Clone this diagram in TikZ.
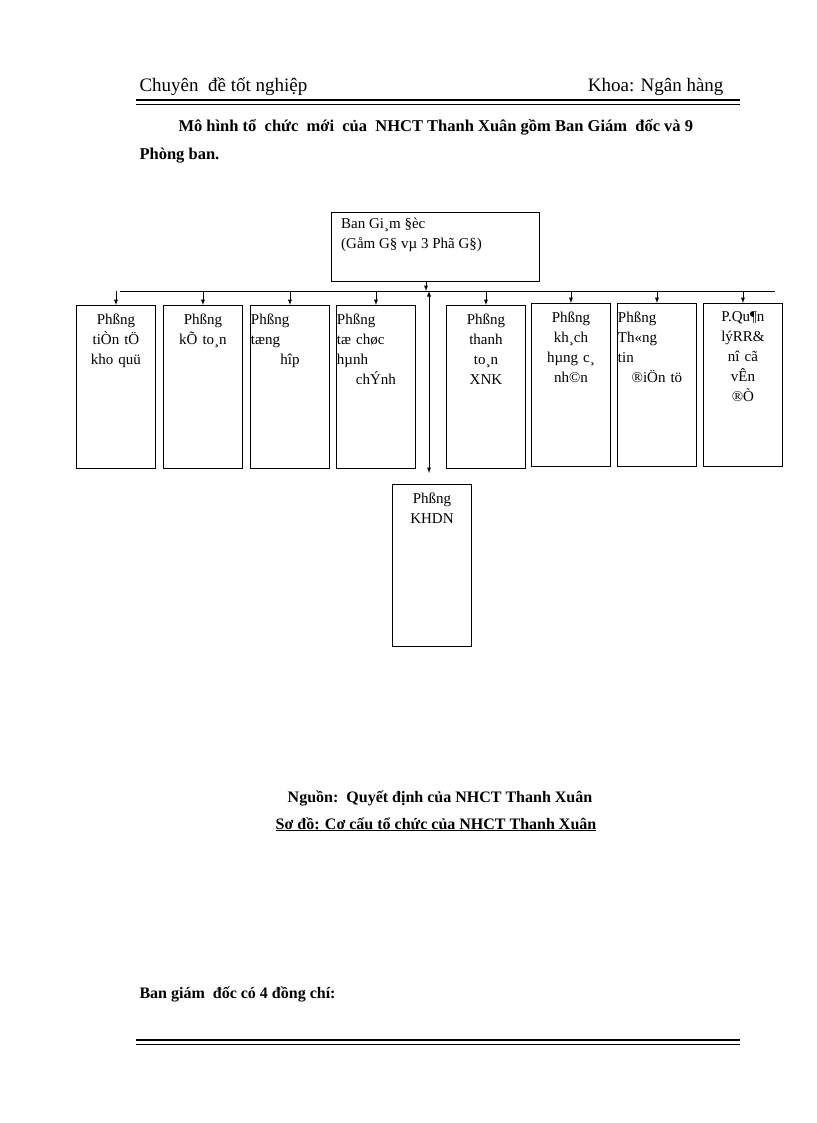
\documentclass[tikz,border=0pt]{standalone}
\usepackage{fontspec}
\setmainfont{Liberation Serif}
\begin{document}
\begin{tikzpicture}[x=1pt,y=-1pt,
  box/.style={draw,line width=0.9pt,minimum width=79pt,minimum height=163pt,anchor=north west,inner sep=0pt},
  lbl/.style={font=\fontsize{15}{20}\selectfont,align=center,anchor=north,text width=78pt},
  arr/.style={-latex,line width=0.9pt}]
\useasboundingbox (0,0) rectangle (816,1123);
% header
\node[anchor=base west,font=\fontsize{19}{22}\selectfont] (h1) at (136,92) {Chuyên\ \ đề tốt nghiệp};
\node[anchor=base east,font=\fontsize{19}{22}\selectfont] (h2) at (727,92) {Khoa: Ngân hàng};
\draw[line width=1.4pt] (136,100) -- (740,100);
\draw[line width=0.6pt] (136,104) -- (740,104);
\node[anchor=base west,font=\bfseries\fontsize{16.5}{20}\selectfont] (p1) at (175,132) {Mô hình tổ\ \ chức\ \ mới\ \ của\ \ NHCT Thanh Xuân gồm Ban Giám\ \ đốc và 9};
\node[anchor=base west,font=\bfseries\fontsize{16.5}{20}\selectfont] (p2) at (136,160) {Phòng ban.};
% top box
\node[draw,line width=0.9pt,minimum width=208pt,minimum height=69pt,anchor=north west] (bgd) at (331,212) {};
\node[anchor=north west,align=left,font=\fontsize{15}{20}\selectfont,inner sep=0pt] (bgdt) at (341,218) {Ban Gi¸m §èc\\(Gåm G§ vµ 3 Phã G§)};
\coordinate (j) at (426,291);
\coordinate (l) at (120,291);
\coordinate (r) at (775,291);
\draw[arr] (426,281) -- (j);
\draw[line width=0.9pt] (l) -- (r);
% children
\foreach \n/\x/\y/\t in {a/76/305/{Phßng\\tiÒn tÖ\\kho quü},
  b/163/305/{Phßng\\kÕ to¸n},
  c/250/305/{\raggedright Phßng\\tæng\\hîp},
  d/336/305/{\raggedright Phßng\\tæ chøc\\hµnh\\chÝnh},
  e/446/305/{Phßng\\thanh\\to¸n\\XNK},
  f/531/303/{Phßng\\kh¸ch\\hµng c¸\\nh©n},
  g/617/303/{\raggedright Phßng\\Th«ng\\tin\\®iÖn tö},
  h/703/303/{P.Qu¶n\\lýRR\&\\nî cã\\vÊn\\®Ò}}{
  \node[box] (\n) at (\x,\y) {};
  \node[lbl] (\n t) at ([yshift=-5pt]\n.north) {\t};
  \draw[arr] (\n.north |- j) -- (\n.north);
}
\node[draw,line width=0.9pt,minimum width=79pt,minimum height=162pt,anchor=north west,inner sep=0pt] (k) at (392,484) {};
\node[lbl] (kt) at ([yshift=-5pt]k.north) {Phßng\\KHDN};
\draw[latex-latex,line width=0.9pt] (429,291) -- (429,473);
% footer
\node[font=\bfseries\fontsize{16}{20}\selectfont,anchor=base] (src) at (440,802) {Nguồn:\ \ Quyết định của NHCT Thanh Xuân};
\node[font=\bfseries\fontsize{16}{20}\selectfont,anchor=base] (cap) at (436,829) {\underline{Sơ đồ: Cơ cấu tổ chức của NHCT Thanh Xuân}};
\node[font=\bfseries\fontsize{16}{20}\selectfont,anchor=base west] (bg) at (136,998) {Ban giám\ \ đốc có 4 đồng chí:};
\draw[line width=1.4pt] (136,1040) -- (740,1040);
\draw[line width=0.6pt] (136,1044) -- (740,1044);
\end{tikzpicture}
\end{document}
